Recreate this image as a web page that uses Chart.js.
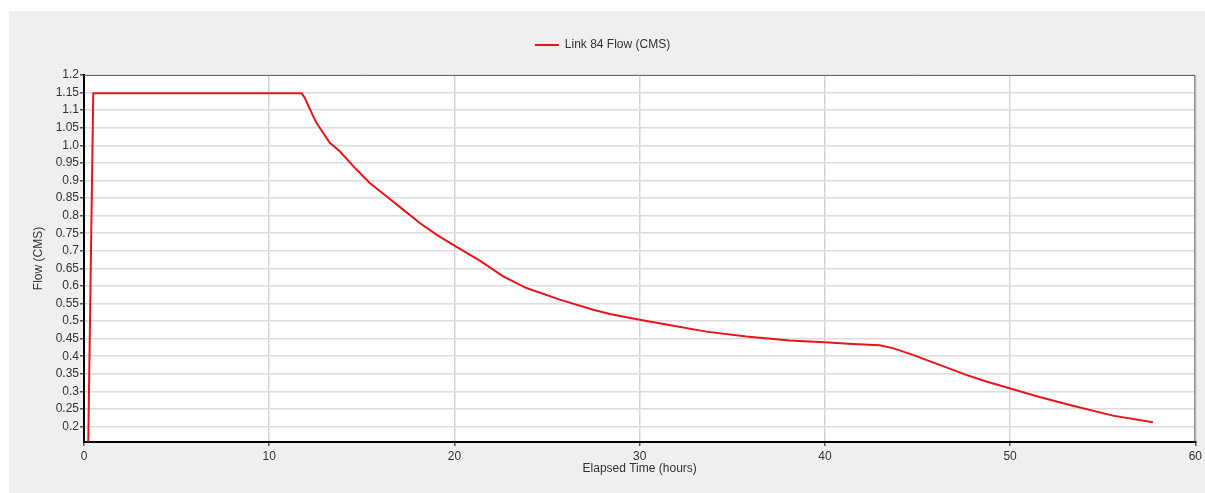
<!DOCTYPE html>
<html>
<head>
<meta charset="utf-8">
<script src="https://cdn.jsdelivr.net/npm/chart.js@4"></script>
<style>
    body { margin: 0; background: #ffffff; }
    #wrap { position: absolute; left: 9px; top: 11px; width: 1196px; height: 482px; background: #efefef; }
</style>
</head>
<body>
<div id="wrap"><canvas id="flowChart"></canvas></div>
<script>
// Link 84 flow (hours, CMS)
const hours = [0.23, 0.5, 11.75, 11.92, 12.37, 12.55, 13.27, 13.81, 14.71, 15.43, 16.33, 17.23, 18.13, 19.03, 19.93,
    21.37, 22.63, 23.89, 25.69, 27.49, 28.39, 30.0, 31.44, 33.6, 35.76, 38.09, 39.98, 41.51, 42.95, 43.67,
    44.75, 46.01, 47.63, 48.71, 49.97, 51.59, 53.39, 55.55, 57.71];
const flow = [0.157, 1.148, 1.148, 1.135, 1.083, 1.064, 1.007, 0.983, 0.931, 0.893, 0.855, 0.817, 0.779, 0.746, 0.717,
    0.672, 0.627, 0.594, 0.561, 0.532, 0.52, 0.504, 0.49, 0.47, 0.456, 0.445, 0.44, 0.435, 0.431, 0.423,
    0.404, 0.379, 0.347, 0.328, 0.309, 0.284, 0.259, 0.231, 0.212];

const xTicks = [0, 10, 20, 30, 40, 50, 60];
const yTicks = [0.2, 0.25, 0.3, 0.35, 0.4, 0.45, 0.5, 0.55, 0.6, 0.65, 0.7, 0.75, 0.8, 0.85, 0.9, 0.95, 1.0, 1.05, 1.1, 1.15, 1.2];
const yTickLabels = ['0.2', '0.25', '0.3', '0.35', '0.4', '0.45', '0.5', '0.55', '0.6', '0.65', '0.7', '0.75', '0.8', '0.85', '0.9', '0.95', '1.0', '1.05', '1.1', '1.15', '1.2'];

Chart.defaults.font.family = '"Liberation Sans", Arial, sans-serif';
Chart.defaults.font.size = 12;
Chart.defaults.color = '#333';

// white plot area plus thin top/right frame
const plotFrame = {
    id: 'plotFrame',
    beforeInit(chart) {
        // extra gap under the legend
        const fit = chart.legend.fit;
        chart.legend.fit = function () {
            fit.call(this);
            this.height += 14;
        };
    },
    beforeDraw(chart) {
        const a = chart.chartArea;
        chart.ctx.save();
        chart.ctx.fillStyle = '#ffffff';
        chart.ctx.fillRect(a.left, a.top, a.right - a.left, a.bottom - a.top);
        chart.ctx.restore();
    },
    afterDraw(chart) {
        const a = chart.chartArea;
        const ctx = chart.ctx;
        ctx.save();
        ctx.strokeStyle = '#666';
        ctx.lineWidth = 1;
        ctx.beginPath();
        ctx.moveTo(a.left, a.top + 0.5);
        ctx.lineTo(a.right - 0.5, a.top + 0.5);
        ctx.lineTo(a.right - 0.5, a.bottom);
        ctx.stroke();
        ctx.restore();
    }
};

new Chart(document.getElementById('flowChart'), {
    type: 'line',
    data: {
        datasets: [{
            label: 'Link 84 Flow (CMS)',
            data: hours.map((h, i) => ({ x: h, y: flow[i] })),
            borderColor: '#e8141a',
            backgroundColor: '#e8141a',
            borderWidth: 2,
            pointRadius: 0,
            tension: 0,
            fill: false
        }]
    },
    options: {
        responsive: true,
        maintainAspectRatio: false,
        animation: false,
        layout: { padding: { top: 18, right: 9, left: 0, bottom: 0 } },
        plugins: {
            legend: {
                position: 'top',
                labels: {
                    usePointStyle: true,
                    pointStyle: 'line',
                    pointStyleWidth: 24,
                    padding: 10,
                    color: '#333'
                }
            },
            tooltip: { enabled: false }
        },
        scales: {
            x: {
                type: 'linear',
                min: 0,
                max: 60,
                afterFit: (scale) => { scale.height = 51; },
                afterBuildTicks: (scale) => { scale.ticks = xTicks.map(v => ({ value: v })); },
                ticks: { padding: 3, autoSkip: false, maxRotation: 0, callback: (v) => String(v) },
                grid: { color: '#d4d4d4', lineWidth: 1.5, tickLength: 4, tickColor: '#555' },
                border: { color: '#000', width: 2 },
                title: { display: true, text: 'Elapsed Time (hours)', color: '#333', padding: { top: 0, bottom: 17 } }
            },
            y: {
                min: 0.156,
                max: 1.2,
                afterFit: (scale) => { scale.width = 75; },
                afterBuildTicks: (scale) => { scale.ticks = yTicks.map(v => ({ value: v })); },
                ticks: {
                    padding: 1,
                    autoSkip: false,
                    callback: (v) => yTickLabels[yTicks.findIndex(t => Math.abs(t - v) < 1e-6)]
                },
                grid: { color: '#dcdcdc', lineWidth: 1.5, tickLength: 4, tickColor: '#555' },
                border: { color: '#000', width: 2 },
                title: { display: true, text: 'Flow (CMS)', color: '#333', padding: { top: 22, bottom: 0 } }
            }
        }
    },
    plugins: [plotFrame]
});
</script>
</body>
</html>
